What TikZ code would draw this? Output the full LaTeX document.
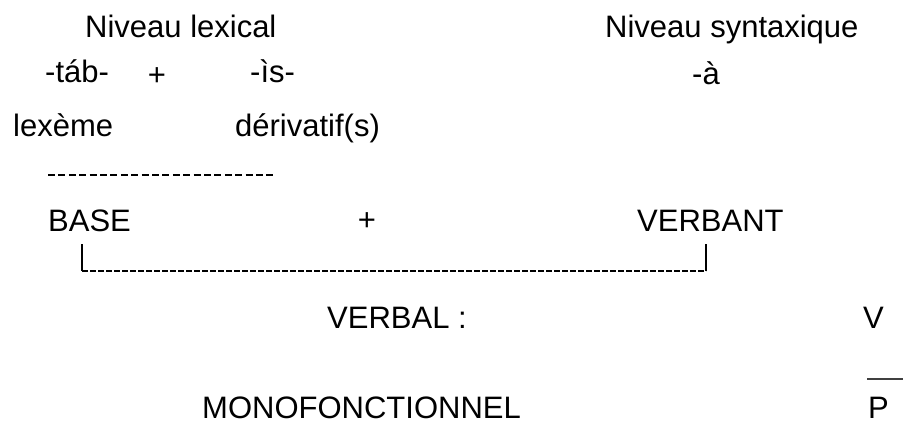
\documentclass[tikz,border=0pt]{standalone}
\usepackage{fontspec}
\setmainfont{Liberation Sans}
\begin{document}
\begin{tikzpicture}[x=1pt,y=-1pt,
  lbl/.style={anchor=base west,inner sep=0pt,font=\fontsize{31}{36}\selectfont},
  plus/.style={anchor=center,inner sep=0pt,font=\fontsize{31}{36}\selectfont},
  dashline/.style={line width=1.8pt,dash pattern=on 7pt off 3.4pt},
  bracketdash/.style={line width=1.8pt,dash pattern=on 5.5pt off 2.5pt},
  bracketline/.style={line width=1.6pt}]
\useasboundingbox (0,0) rectangle (903,425);
% top labels
\node[lbl] (nlex) at (85,38) {Niveau lexical};
\node[lbl] (nsyn) at (605,38) {Niveau syntaxique};
\node[lbl] (tab) at (45,83) {-táb-};
\node[plus] (plus1) at (157,77) {+};
\node[lbl] (is) at (250,83) {-ìs-};
\node[lbl] (a) at (692,85) {-à};
\node[lbl] (lex) at (13,137) {lexème};
\node[lbl] (der) at (235,137) {dérivatif(s)};
% dashed separator
\coordinate (d1) at (48,175);
\coordinate (d2) at (276,175);
\draw[dashline] (d1) -- (d2);
% base row
\node[lbl] (base) at (48,232) {BASE};
\node[plus] (plus2) at (367,222) {+};
\node[lbl] (verbant) at (637,232) {VERBANT};
% bracket
\coordinate (b1) at (82,244);
\coordinate (b2) at (82,271);
\coordinate (b3) at (706,271);
\coordinate (b4) at (706,244);
\draw[bracketline] (b1) -- (b2);
\draw[bracketline] (b4) -- (b3);
\draw[bracketdash] (b2) -- (b3);
% lower labels
\node[lbl] (verbal) at (327,328) {VERBAL :};
\node[lbl] (v) at (863,328) {V};
\coordinate (f1) at (867,379);
\coordinate (f2) at (903,379);
\draw[line width=1.8pt,black!75] (f1) -- (f2);
\node[lbl] (mono) at (202,418) {MONOFONCTIONNEL};
\node[lbl] (p) at (868,418) {P};
\end{tikzpicture}
\end{document}
